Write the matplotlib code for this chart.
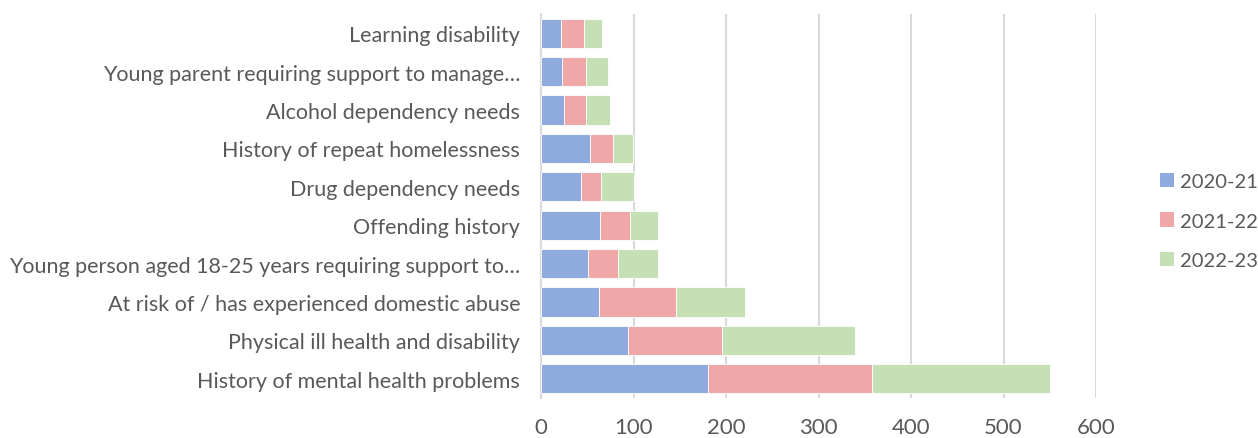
import matplotlib
matplotlib.use("Agg")
import matplotlib.pyplot as plt
from matplotlib.patches import Patch
import numpy as np

categories = [
    "Learning disability",
    "Young parent requiring support to manage…",
    "Alcohol dependency needs",
    "History of repeat homelessness",
    "Drug dependency needs",
    "Offending history",
    "Young person aged 18-25 years requiring support to…",
    "At risk of / has experienced domestic abuse",
    "Physical ill health and disability",
    "History of mental health problems",
]
series_names = ["2020-21", "2021-22", "2022-23"]
v2020 = [22, 23, 25, 53, 43, 64, 51, 63, 94, 181]
v2021 = [24, 26, 24, 25, 22, 32, 32, 83, 102, 177]
v2022 = [20, 23, 26, 21, 35, 30, 44, 75, 143, 192]
colors = ["#8faadc", "#f0a7a8", "#c5e0b4"]
xticks = [0, 100, 200, 300, 400, 500, 600]

plt.rcParams['font.family'] = ['Lato', 'DejaVu Sans']

fig = plt.figure(figsize=(12.58, 4.39), dpi=100)
ax = fig.add_axes([541/1258, 1-399/439, (1096-541)/1258, (399-15)/439])

y = np.arange(len(categories))
left = np.zeros(len(categories))
for vals, col in zip([v2020, v2021, v2022], colors):
    vals = np.array(vals, dtype=float)
    ax.barh(y, vals, left=left, height=0.76, color=col, edgecolor='white', linewidth=0.6, zorder=3)
    left += vals

ax.set_ylim(len(categories)-0.5, -0.5)
ax.set_xlim(0, 600)
ax.set_xticks(xticks)
ax.set_xticklabels([str(t) for t in xticks], fontsize=16, color='#595959')
ax.set_yticks(y)
ax.set_yticklabels(categories, fontsize=15.5, color='#595959')
ax.tick_params(axis='x', length=0, pad=14)
ax.tick_params(axis='y', length=0, pad=15)
ax.grid(axis='x', color='#d9d9d9', linewidth=1.5, zorder=0)
for s in ['top', 'right', 'bottom']:
    ax.spines[s].set_visible(False)
ax.spines['left'].set_color('#d9d9d9')
ax.spines['left'].set_linewidth(1.5)

handles = [Patch(facecolor=c, edgecolor='none') for c in colors]
fig.legend(handles, series_names, loc='center left', bbox_to_anchor=(1160/1258, 1-222/439),
           frameon=False, fontsize=14.5, labelcolor='#595959', handlelength=0.7, handleheight=0.7,
           handletextpad=0.3, labelspacing=1.1, borderaxespad=0, borderpad=0)

fig.savefig("out.png", dpi=100)
